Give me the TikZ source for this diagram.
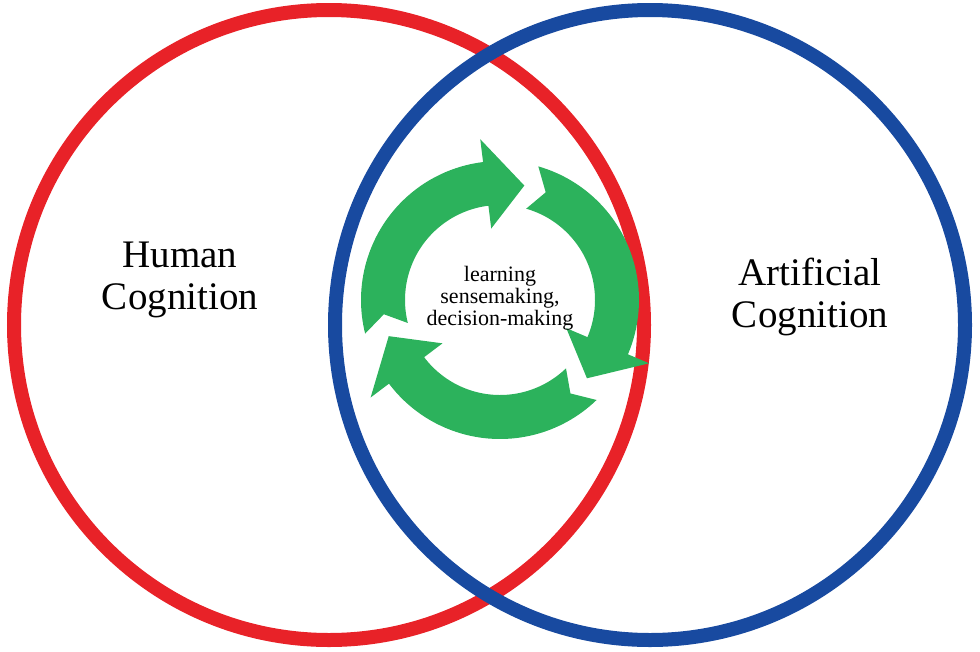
\documentclass[tikz,border=0pt]{standalone}
\usepackage{fontspec}
\setmainfont{Liberation Serif}
\begin{document}
\begin{tikzpicture}[x=1pt,y=-1pt,
  ring/.style={line width=14pt},
  bigtext/.style={align=center,font=\fontsize{39}{42}\selectfont},
  cycletext/.style={align=center,font=\fontsize{22}{22}\selectfont}]
\useasboundingbox (0,0) rectangle (980,651);
%% the two circles
\node[circle, ring, draw={rgb,255:red,232;green,34;blue,40}, minimum size=630pt] (human) at (329,325) {};
\node[circle, ring, draw={rgb,255:red,24;green,74;blue,160}, minimum size=630pt] (artificial) at (650,325) {};

%% the cycle of three arrows
\begin{scope}[shift={(500,300)}, yscale=-1]
\foreach \k in {0,1,2}{
  \pgfmathsetmacro\tip{78-120*\k}
  \pgfmathsetmacro\base{\tip+19}
  \pgfmathsetmacro\tail{\tip+116}
  \fill[fill={rgb,255:red,44;green,178;blue,92}]
    (\tail:139) arc[start angle=\tail, end angle=\base, radius=139]
    -- (\base:162) -- (\tip:117) -- (\base:72)
    -- (\base:95) arc[start angle=\base, end angle=\tail, radius=95]
    -- (\tail-7:117) -- cycle;
}
\end{scope}

%% labels
\node[bigtext] (humanlabel) at (180,280) {Human\\Cognition};
\node[bigtext] (artlabel) at (810,297) {Artificial\\Cognition};
\node[cycletext] (cycle) at (500,298) {learning\\sensemaking,\\decision-making};
\end{tikzpicture}
\end{document}
